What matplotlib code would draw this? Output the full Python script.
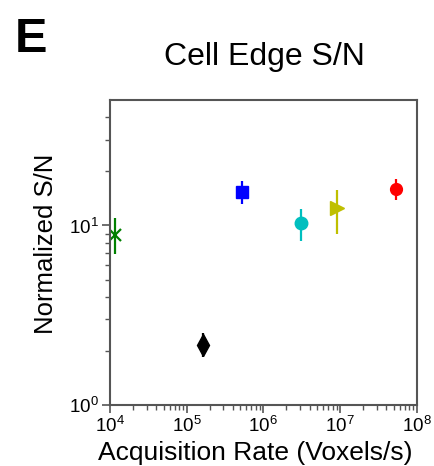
import matplotlib
matplotlib.use("Agg")
import matplotlib.pyplot as plt
import numpy as np
from matplotlib.ticker import LogLocator, NullFormatter, FixedLocator

plt.rcParams['font.family'] = ['Liberation Sans', 'DejaVu Sans']
plt.rcParams['mathtext.fontset'] = 'custom'
plt.rcParams['mathtext.rm'] = 'Liberation Sans'
plt.rcParams['mathtext.it'] = 'Liberation Sans:italic'
plt.rcParams['mathtext.bf'] = 'Liberation Sans:bold'

# Data
rates = [1.16e4, 1.61e5, 5.2e5, 3.1e6, 9.0e6, 5.36e7]
sn = [8.9, 2.17, 15.3, 10.3, 12.5, 15.9]
sn_low = [6.9, 1.84, 13.1, 8.2, 9.0, 13.9]
sn_high = [11.0, 2.53, 17.8, 12.3, 15.8, 18.1]
markers = ['x', 'd', 's', 'o', '>', 'o']
colors = ['#008000', '#000000', '#0000FF', '#00BFBF', '#BFBF00', '#FF0000']
msizes = [8, 11, 8.5, 9, 10, 8.5]

W, H = 434, 466
fig = plt.figure(figsize=(W / 100, H / 100), dpi=100)
ax = fig.add_axes([110 / W, 1 - 405 / H, (416.7 - 110) / W, (405 - 100) / H])

for x, y, lo, hi, m, c, s in zip(rates, sn, sn_low, sn_high, markers, colors, msizes):
    ax.errorbar([x], [y], yerr=[[y - lo], [hi - y]], fmt=m, color=c, ecolor=c,
                elinewidth=1.6, capsize=0, markersize=s,
                markeredgewidth=1.6 if m == 'x' else 1)

ax.set_xscale('log')
ax.set_yscale('log')
ax.set_xlim(1e4, 1e8)
ax.set_ylim(1, 50)

ax.xaxis.set_major_locator(LogLocator(base=10, numticks=10))
ax.xaxis.set_minor_locator(LogLocator(base=10, subs=np.arange(2, 10), numticks=20))
ax.xaxis.set_minor_formatter(NullFormatter())
ax.yaxis.set_major_locator(FixedLocator([1, 10]))
ax.yaxis.set_minor_locator(FixedLocator([2, 3, 4, 5, 6, 7, 8, 9, 20, 30, 40]))
ax.yaxis.set_minor_formatter(NullFormatter())
ax.set_yticklabels([r'$\mathdefault{10^{0}}$', r'$\mathdefault{10^{1}}$'])

spine_color = '#555555'
for sp in ax.spines.values():
    sp.set_color(spine_color)
    sp.set_linewidth(1.5)
ax.tick_params(which='both', direction='out', colors=spine_color, labelcolor='black',
               labelsize=13.5, top=False, right=False)
ax.tick_params(which='major', length=6, width=1.2, pad=2)
ax.tick_params(which='minor', length=3.5, width=1.0)

fig.text(255 / W, 1 - 460 / H, 'Acquisition Rate (Voxels/s)', fontsize=19,
         ha='center', va='baseline')
fig.text(53 / W, 1 - 243.5 / H, 'Normalized S/N', fontsize=18.5, rotation=90,
         rotation_mode='anchor', ha='center', va='baseline')
fig.text(264 / W, 1 - 65 / H, 'Cell Edge S/N', fontsize=23, ha='center', va='baseline')
fig.text(15 / W, 1 - 52 / H, 'E', fontsize=35, fontweight='bold', ha='left', va='baseline')

fig.savefig('out.png', dpi=100)
